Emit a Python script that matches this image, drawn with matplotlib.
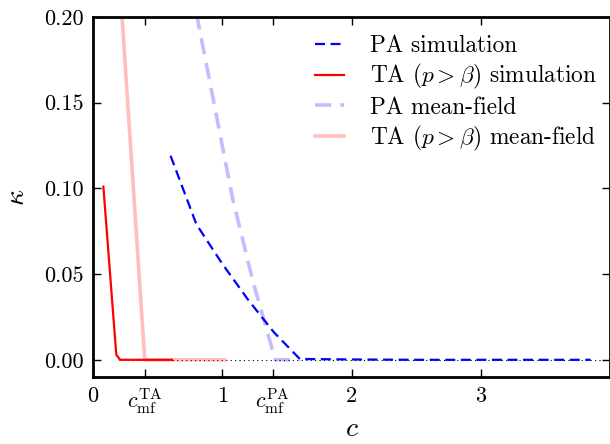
import matplotlib
matplotlib.use('Agg')
import matplotlib.pyplot as plt

plt.rcParams['font.family'] = 'serif'
plt.rcParams['font.serif'] = ['cmr10', 'DejaVu Serif']
plt.rcParams['mathtext.fontset'] = 'cm'
plt.rcParams['axes.unicode_minus'] = False

# PA simulation
pa_sim_c = [0.6, 0.8, 1.0, 1.2, 1.4, 1.6, 2.0, 2.5, 3.0, 3.5, 3.85]
pa_sim_k = [0.119, 0.079, 0.056, 0.035, 0.016, 0.0005, 0.0002, 0.0, 0.0, 0.0, 0.0]

# TA (p > beta) simulation
ta_sim_c = [0.08, 0.18, 0.21, 0.3, 0.4, 0.5, 0.61]
ta_sim_k = [0.101, 0.003, 0.0, 0.0, 0.0, 0.0, 0.0]

# PA mean-field
pa_mf_c = [0.80, 0.93, 1.08, 1.24, 1.41, 1.6]
pa_mf_k = [0.202, 0.152, 0.094, 0.045, 0.0, 0.0]

# TA (p > beta) mean-field
ta_mf_c = [0.22, 0.40, 0.6, 0.8, 1.02]
ta_mf_k = [0.205, 0.0, 0.0, 0.0, 0.0]

c_mf_ta = 0.40
c_mf_pa = 1.39

xtick_pos = [0, c_mf_ta, 1, c_mf_pa, 2, 3]
xtick_lab = ['0', r'$c_{\rm mf}^{\rm TA}$', '1', r'$c_{\rm mf}^{\rm PA}$', '2', '3']
ytick_pos = [0.0, 0.05, 0.10, 0.15, 0.20]
ytick_lab = ['0.00', '0.05', '0.10', '0.15', '0.20']

fig = plt.figure(figsize=(6.10, 4.44), dpi=100)
ax = fig.add_axes([0.1525, 0.151, 0.8475, 0.811])

ax.plot([0.2, 4.0], [0, 0], color='k', ls=(0, (1, 3)), lw=0.8)

ax.plot(pa_sim_c, pa_sim_k, color='#0000ff', lw=1.6, dashes=(4.5, 2.5), label='PA simulation')
ax.plot(ta_sim_c, ta_sim_k, color='#ff0000', lw=1.6, label=r'TA ($p > \beta$) simulation')
ax.plot(pa_mf_c, pa_mf_k, color='#0000ff', alpha=0.25, lw=2.6, dashes=(4.5, 2.5), label='PA mean-field')
ax.plot(ta_mf_c, ta_mf_k, color='#ff0000', alpha=0.25, lw=2.6, label=r'TA ($p > \beta$) mean-field')

ax.set_xlim(0, 4)
ax.set_ylim(-0.01, 0.2)
ax.set_xticks(xtick_pos)
ax.set_xticklabels(xtick_lab)
ax.set_yticks(ytick_pos)
ax.set_yticklabels(ytick_lab)
ax.tick_params(direction='in', length=6, width=1, labelsize=16, top=True, right=True, pad=7)
for s in ax.spines.values():
    s.set_linewidth(2)

ax.set_xlabel(r'$c$', fontsize=20, va='center')
ax.xaxis.set_label_coords(0.5, -0.145)
ax.set_ylabel(r'$\kappa$', fontsize=20, labelpad=10)

ax.legend(loc='upper right', frameon=False, fontsize=16.8, handlelength=1.25,
          handletextpad=1.1, labelspacing=0.22, bbox_to_anchor=(1.015, 1.008))

fig.savefig('out.png', dpi=100)
